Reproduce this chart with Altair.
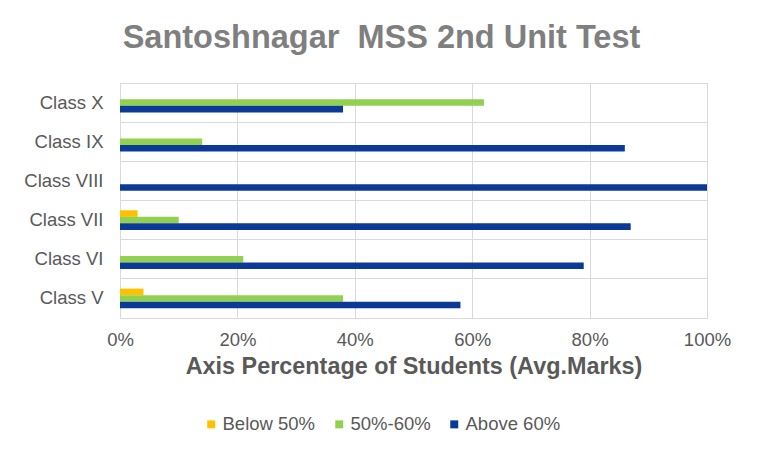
import altair as alt
import pandas as pd

classes = ["Class X", "Class IX", "Class VIII", "Class VII", "Class VI", "Class V"]
series = ["Below 50%", "50%-60%", "Above 60%"]
below_50 = [0, 0, 0, 3, 0, 4]
mid_50_60 = [62, 14, 0, 10, 21, 38]
above_60 = [38, 86, 100, 87, 79, 58]
colors = ["#FFC000", "#92D050", "#0B3A96"]

rows = []
for i, c in enumerate(classes):
    for s, vals in zip(series, [below_50, mid_50_60, above_60]):
        rows.append({"Class": c, "Series": s, "Value": vals[i] / 100.0})
df = pd.DataFrame(rows)

grey = "#595959"
font = "Liberation Sans"
offset_domain = ["_pad_top"] + series + ["_pad_bottom"]

bars = alt.Chart(df).mark_bar().encode(
    y=alt.Y("Class:N", sort=classes,
            scale=alt.Scale(paddingInner=0, paddingOuter=0),
            axis=alt.Axis(title=None, bandPosition=0, grid=True, gridColor="#d9d9d9",
                          ticks=False, domain=False, labelFontSize=18.5, labelColor=grey,
                          labelFont=font, labelPadding=17)),
    yOffset=alt.YOffset("Series:N",
                        scale=alt.Scale(domain=offset_domain, paddingInner=0, paddingOuter=0.5)),
    x=alt.X("Value:Q", scale=alt.Scale(domain=[0, 1], nice=False),
            axis=alt.Axis(title="Axis Percentage of Students (Avg.Marks)", format="%",
                          values=[0, 0.2, 0.4, 0.6, 0.8, 1.0], grid=True, gridColor="#d9d9d9",
                          ticks=False, domain=False, labelFontSize=18.5, labelColor=grey,
                          labelFont=font, labelPadding=12, labelFlush=False,
                          titleFontSize=23.4, titleFont=font, titleColor=grey,
                          titlePadding=7)),
    color=alt.Color("Series:N", sort=series,
                    scale=alt.Scale(domain=series, range=colors),
                    legend=alt.Legend(title=None, orient="none", direction="horizontal",
                                      legendX=82, legendY=332, symbolType="square",
                                      symbolSize=64, symbolStrokeWidth=0,
                                      labelFontSize=18.5, labelColor=grey, labelFont=font,
                                      columnPadding=14, labelOffset=2)),
)

chart = bars.properties(
    width=587,
    height=235,
    title=alt.TitleParams("Santoshnagar\u00a0 MSS 2nd Unit Test", fontSize=32.5, font=font,
                          color="#7f7f7f", fontWeight="bold", anchor="middle",
                          frame="group", dx=-32, offset=29),
    padding={"left": 15, "top": 13, "right": 10, "bottom": 10},
    background="white",
).configure_view(stroke="#d9d9d9", strokeWidth=1)

chart.save("out.html", embed_options={"renderer": "svg", "actions": False})
